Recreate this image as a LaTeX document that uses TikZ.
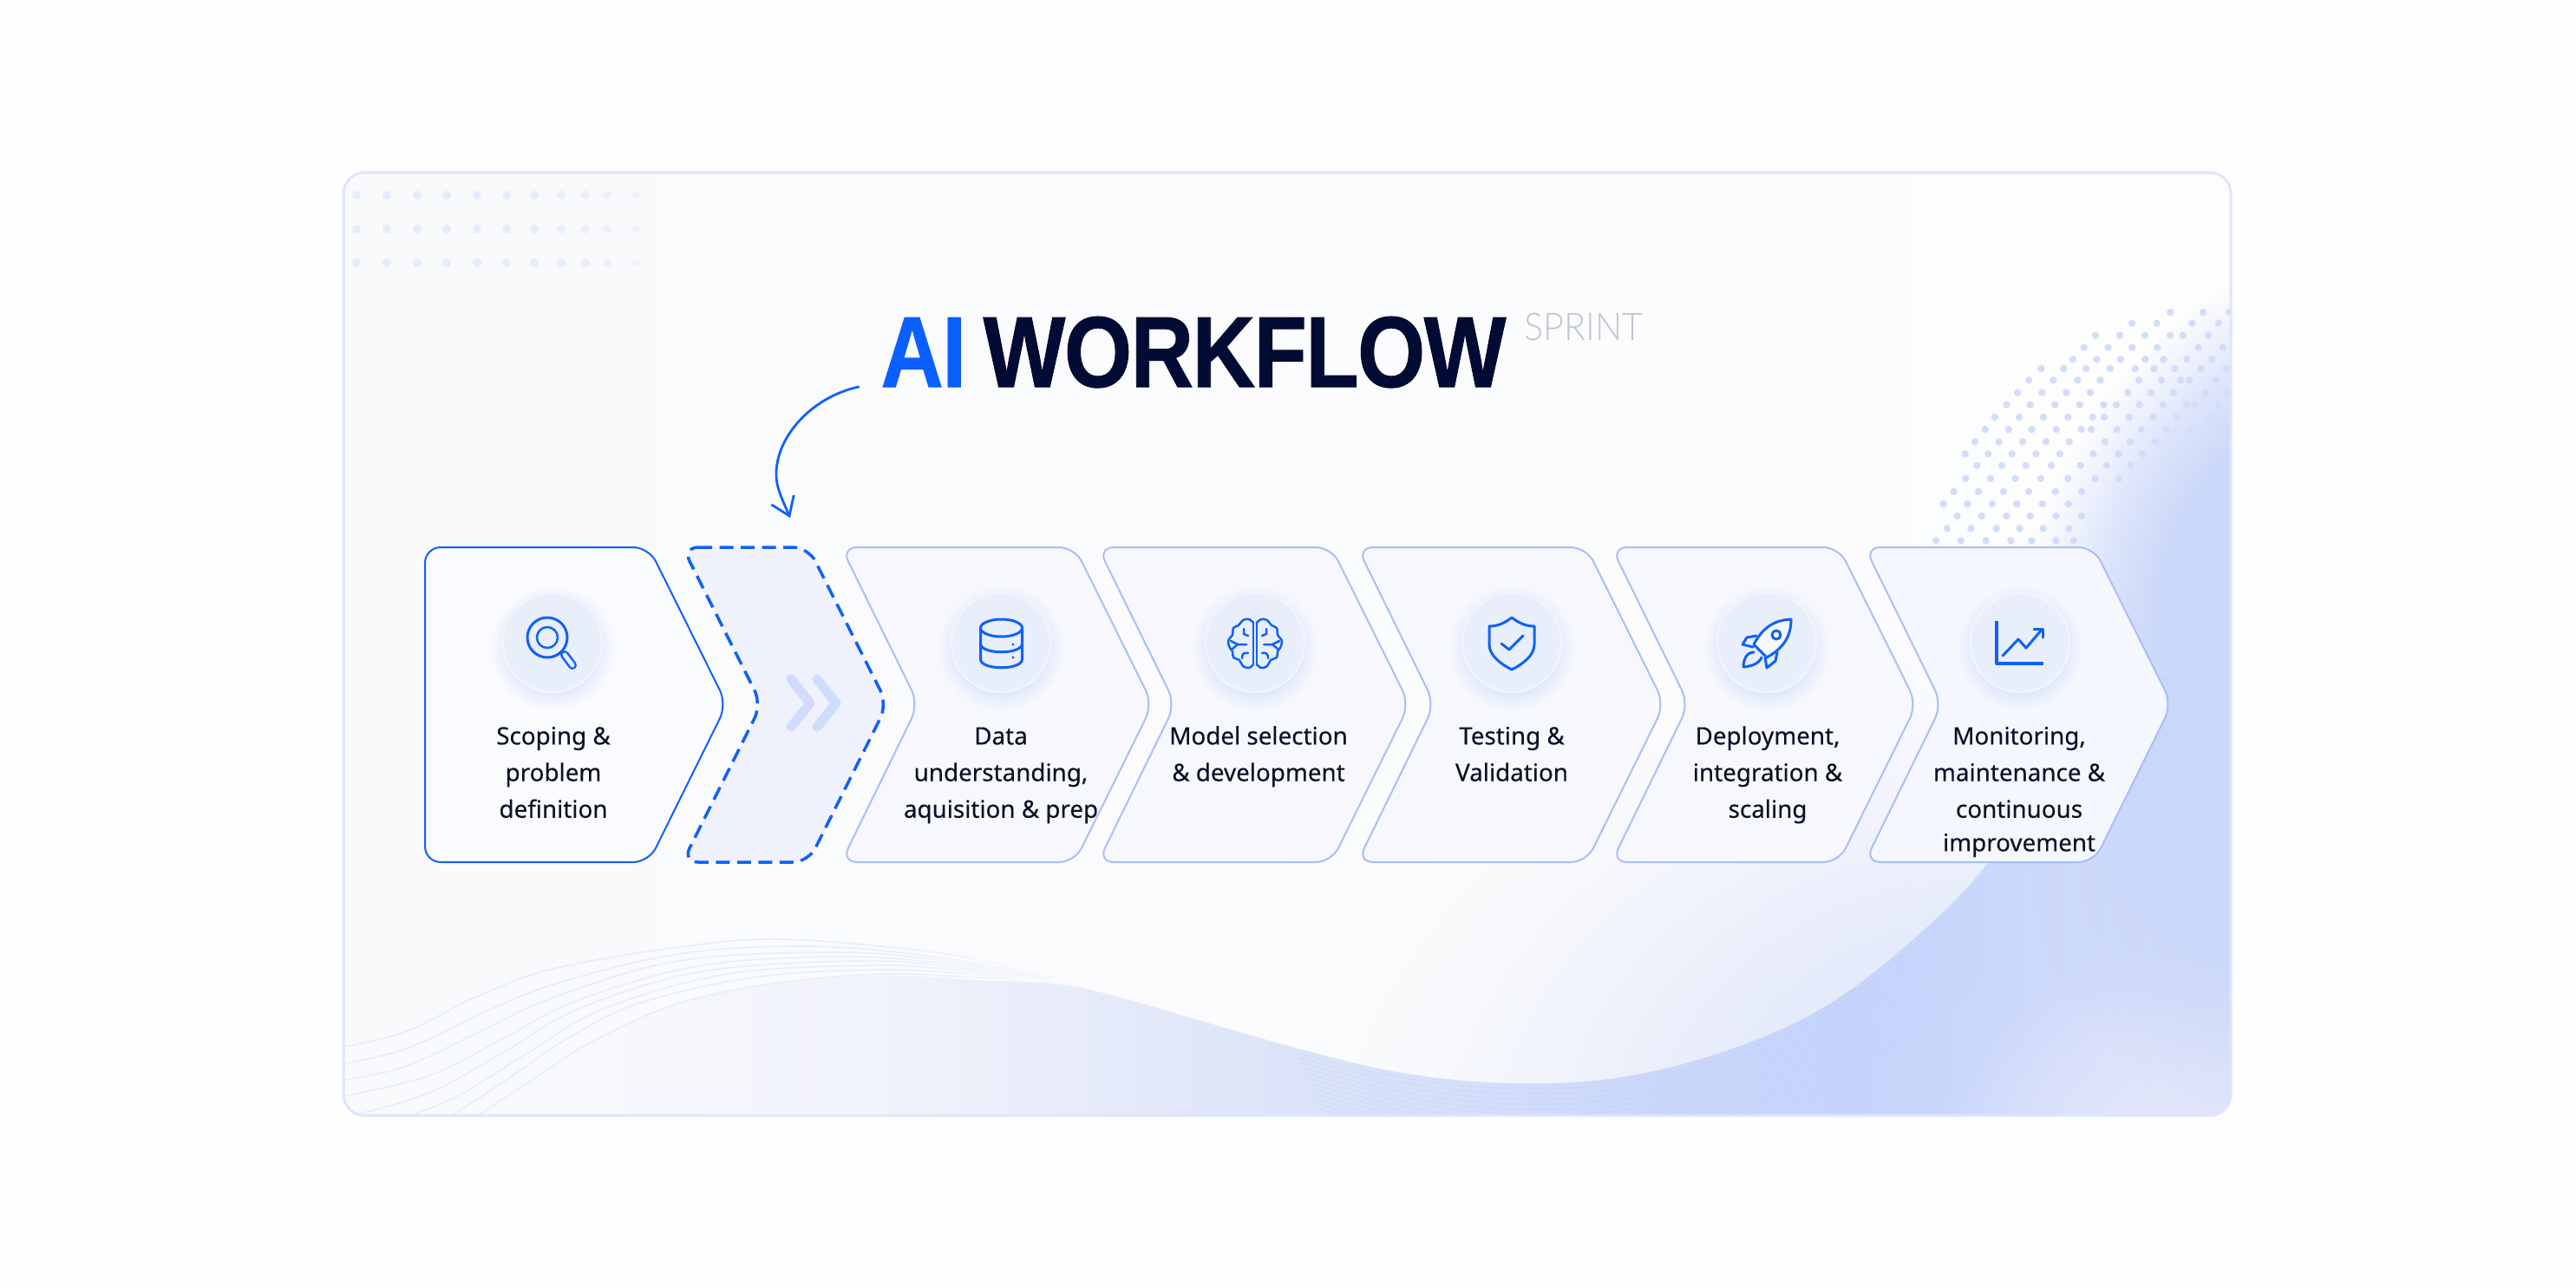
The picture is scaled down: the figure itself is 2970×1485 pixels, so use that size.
\documentclass[tikz,border=0pt]{standalone}
\usepackage{fontspec}
\usetikzlibrary{fadings,arrows.meta}
\newfontfamily\bodyf[FakeBold=0.22]{Noto Sans}
\newfontfamily\titlef[BoldFeatures={FakeBold=0.9,LetterSpace=-1.5}]{Liberation Sans}
\newfontfamily\lightf{Lato Light}
\definecolor{pagebg}{HTML}{FEFEFE}
\definecolor{framec}{HTML}{DEE5FD}
\definecolor{mainblue}{HTML}{0F62F6}
\definecolor{aiblue}{HTML}{0B5FFF}
\definecolor{navy}{HTML}{020B33}
\definecolor{inkc}{HTML}{0C1128}
\definecolor{sprintc}{HTML}{BEC5D5}
\definecolor{softline}{HTML}{A9BEF8}
\definecolor{chevfill}{HTML}{F6F8FD}
\definecolor{chevfirst}{HTML}{FAFBFE}
\definecolor{chevlast}{HTML}{F4F7FE}
\definecolor{dashfill}{HTML}{EFF2FC}
\definecolor{discfill}{HTML}{E9EEFB}
\definecolor{discedge}{HTML}{F3F5FD}
\definecolor{dblchev}{HTML}{CFDCFB}
\definecolor{glowblue}{HTML}{CAD7F9}
\definecolor{midglow}{HTML}{E3E9FB}
\definecolor{shadowb}{HTML}{AEC4F8}
\definecolor{dotc}{HTML}{D3DDFA}
\definecolor{dotl}{HTML}{E6ECFB}
\definecolor{linec}{HTML}{E8EDFB}
\definecolor{ringc}{HTML}{B5C8F8}
\definecolor{iconfill}{HTML}{F6F8FE}
\definecolor{wa}{HTML}{F9FAFC}
\definecolor{wb}{HTML}{F6F7FC}
\definecolor{wbb}{HTML}{F0F2FB}
\definecolor{wc}{HTML}{E9EDFA}
\definecolor{wd}{HTML}{DEE5F9}
\definecolor{we}{HTML}{D3DDFA}
\definecolor{wee}{HTML}{CAD7FA}
\definecolor{wf}{HTML}{C5D4FB}
\definecolor{wg}{HTML}{D2DCFA}
\definecolor{basel}{HTML}{F9FAFC}
\definecolor{baser}{HTML}{FDFDFE}
\definecolor{cornerc}{HTML}{E3E7FB}
\pgfdeclarehorizontalshading{wavebg}{100bp}{color(0bp)=(wa); color(25bp)=(wa); color(34bp)=(wb); color(40bp)=(wbb); color(43.5bp)=(wc); color(49bp)=(wd); color(56bp)=(we); color(60bp)=(wee); color(65bp)=(wf); color(73bp)=(wg); color(100bp)=(wg)}
\pgfdeclareradialshading{softs}{\pgfpointorigin}{color(0bp)=(pgftransparent!0); color(11bp)=(pgftransparent!5); color(17.5bp)=(pgftransparent!40); color(21bp)=(pgftransparent!70); color(25bp)=(pgftransparent!100); color(50bp)=(pgftransparent!100)}
\pgfdeclarefading{softf}{\pgfuseshading{softs}}
\pgfdeclareradialshading{widesoft}{\pgfpointorigin}{color(0bp)=(pgftransparent!0); color(8bp)=(pgftransparent!15); color(14bp)=(pgftransparent!50); color(20bp)=(pgftransparent!85); color(25bp)=(pgftransparent!100); color(50bp)=(pgftransparent!100)}
\pgfdeclarefading{widef}{\pgfuseshading{widesoft}}
\pgfdeclarehorizontalshading{linefs}{100bp}{color(0bp)=(pgftransparent!0); color(62bp)=(pgftransparent!0); color(75bp)=(pgftransparent!100); color(100bp)=(pgftransparent!100)}
\pgfdeclarefading{linef}{\pgfuseshading{linefs}}
\newcommand{\softglow}[7]{\begin{scope}[transform canvas={shift={(#1,#2)},rotate=#5}]\fill[#6,opacity=#7,path fading=softf] (0,0) ellipse[x radius=#3,y radius=#4];\end{scope}}
\newcommand{\chevpath}[5]{\draw[#1] (#2,631) -- (#3,631) -- (#5,812) -- (#3,994) -- (#2,994) -- (#4,812) -- cycle;}
\newcommand{\iconbase}[1]{\softglow{#1}{747}{72}{72}{0}{shadowb}{0.55}\node[discnode] (disc#1) at (#1,741) {};}
\newcommand{\fs}{\rule{0pt}{9pt}}
\tikzset{
  x=0.01cm,y=-0.01cm,
  chevbase/.style={rounded corners=0.18cm,line width=0.02cm},
  softchev/.style={chevbase,draw=softline,fill=chevfill},
  discnode/.style={circle,minimum size=1.14cm,inner sep=0pt,fill=discfill,draw=discedge,line width=0.02cm},
  lbl/.style={font=\bodyf\fontsize{7.9}{12}\selectfont,text=inkc,align=center,anchor=north,inner sep=0pt},
  iconline/.style={draw=mainblue,line width=0.03cm,line cap=round,line join=round},
  iconthin/.style={draw=mainblue,line width=0.025cm,line cap=round,line join=round},
  fineline/.style={draw=linec,line width=0.016cm,path fading=linef}
}
\begin{document}
\begin{tikzpicture}
\path[use as bounding box] (0,0) rectangle (2970,1485);
\fill[pagebg] (0,0) rectangle (2970,1485);
% panel
\begin{scope}
\clip[rounded corners=0.24cm] (396,199) rectangle (2572,1286);
\shade[left color=basel,right color=baser] (396,199) rectangle (2572,1286);
\begin{scope}[transform canvas={shift={(2240,1230)},rotate=15}]
\fill[midglow,path fading=widef] (0,0) ellipse[x radius=760,y radius=500];
\end{scope}
% wave region
\shade[shading=wavebg] plot[smooth,tension=.6] coordinates {(545,1292) (552,1283) (610,1247) (684,1200) (782,1157) (897,1133) (1023,1125) (1126,1130) (1212,1134) (1280,1147) (1490,1207) (1617,1237) (1745,1249) (1869,1242) (1995,1210) (2105,1160) (2206,1083) (2290,997) (2350,890) (2400,780)} -- (2572,780) -- (2572,1290) -- (396,1290) -- cycle;
\softglow{2600}{1340}{380}{260}{0}{cornerc}{0.9}
\softglow{2620}{640}{380}{260}{60}{glowblue}{1}
\softglow{2600}{960}{330}{260}{90}{glowblue}{0.8}
% fine concentric lines
\foreach \k in {1,...,14}{
  \draw[ringc,line width=0.006cm,opacity=0.4,shift={({2.6*\k},{6*\k})}] plot[smooth,tension=.6] coordinates {(1490,1207) (1617,1237) (1745,1249) (1869,1242) (1995,1210) (2105,1160) (2206,1083) (2290,997)};
}
% fine lines bottom left
\draw[fineline] plot[smooth,tension=.6] coordinates {(390,1208) (466,1190) (552,1148) (638,1117) (782,1092) (902,1083) (1069,1097) (1184,1118) (1212,1126)};
\draw[fineline] plot[smooth,tension=.6] coordinates {(390,1227) (466,1210) (552,1170) (638,1135) (782,1100) (931,1091) (1069,1102) (1212,1126)};
\draw[fineline] plot[smooth,tension=.6] coordinates {(390,1246) (466,1230) (552,1190) (638,1150) (782,1108) (954,1098) (1069,1105) (1212,1127)};
\draw[fineline] plot[smooth,tension=.6] coordinates {(390,1265) (495,1240) (581,1197) (667,1153) (810,1113) (977,1103) (1098,1112) (1212,1127)};
\draw[fineline] plot[smooth,tension=.6] coordinates {(410,1285) (495,1260) (581,1213) (667,1163) (810,1120) (994,1108) (1098,1115) (1212,1128)};
\draw[fineline] plot[smooth,tension=.6] coordinates {(470,1287) (529,1263) (610,1213) (696,1163) (839,1123) (1006,1113) (1098,1118) (1212,1128)};
\draw[fineline] plot[smooth,tension=.6] coordinates {(518,1288) (581,1247) (655,1197) (736,1157) (868,1127) (1011,1118) (1126,1123) (1212,1129)};
\draw[fineline] plot[smooth,tension=.6] coordinates {(548,1288) (610,1247) (684,1200) (782,1157) (897,1133) (1023,1123) (1126,1127) (1212,1130)};
% dot grid top-left
\foreach \py in {225,264,303}{
  \foreach \px/\po in {411/1,446/1,481/1,515/1,550/1,584/1,616/.95,647/.85,675/.8,700/.7,733/.45}{
    \fill[dotl,opacity=\po] (\px,\py) circle[radius=5];
  }
}
% halftone dots
\foreach \zy/\zlist in {
 1090/{396,482,569,655,727,811,873},
 1048/{435,517,605,685,767,856},
 1005/{469,554,640,722,811,900},
 963/{422,505,591,676,765,854},
 920/{458,543,630,717,809,901},
 875/{499,585,670,759,853,947,1030},
 830/{538,624,707,795,896,987,1070},
 790/{497,577,659,742,824,940,1028,1110},
 748/{531,614,696,777,857,981,1068,1155,1348},
 705/{566,647,728,812,899,933,1022,1106,1192,1275,1385},
 663/{600,684,768,853,938,978,1064,1147,1230,1340},
 620/{640,722,808,893,976,1020,1100,1182,1262,1293,1373},
 578/{678,763,847,930,1060,1140,1218,1327,1405},
 535/{717,802,886,964,1098,1176,1242,1273,1364},
 495/{760,838,915,998,1085,1150,1222,1312,1400},
 463/{870,952,1034,1120,1183,1264,1350},
 422/{908,992,1075,1162,1303,1388},
 380/{948,1032,1119,1206,1250,1338},
 338/{1074,1160,1282,1374},
 300/{1207,1320,1410}}{
  \foreach \zx in \zlist {
    \fill[dotc] ({2100+\zx/3},{260+\zy/3}) circle[radius=4.2];
  }
}
\end{scope}
\draw[framec,line width=0.03cm,rounded corners=0.24cm] (396,199) rectangle (2572,1286);
% title
\node[font=\titlef\bfseries\fontsize{33}{33}\selectfont,text=aiblue,anchor=base west,inner sep=0pt,xscale=0.86] (titleai) at (1015,446) {AI};
\node[font=\titlef\bfseries\fontsize{33}{33}\selectfont,text=navy,anchor=base west,inner sep=0pt,xscale=0.865] (titlewf) at (1133,446) {WORKFLOW};
\node[font=\lightf\fontsize{12.5}{12.5}\selectfont,text=sprintc,anchor=base west,inner sep=0pt,xscale=0.94] (titlesp) at (1757,392) {SPRINT};
% arrow
\coordinate (arrS) at (990,446);
\coordinate (arrM) at (895,550);
\coordinate (arrE) at (911,597);
\draw[mainblue,line width=0.028cm,line cap=round,-{Straight Barb[length=0.2cm,width=0.28cm,line width=0.028cm]}] (arrS) .. controls (935,458) and (893,505) .. (arrM) .. controls (896,565) and (903,578) .. (arrE);
% chevrons
\draw[chevbase,draw=mainblue,fill=chevfirst] (490,631) -- (748,631) -- (838,812) -- (748,994) -- (490,994) -- cycle;
\chevpath{chevbase,draw=mainblue,fill=dashfill,line width=0.035cm,dash pattern=on 0.16cm off 0.085cm}{787}{932}{878}{1023}
\chevpath{softchev}{970}{1239}{1059}{1329}
\chevpath{softchev}{1266}{1535}{1355}{1625}
\chevpath{softchev}{1565}{1829}{1654}{1919}
\chevpath{softchev}{1858}{2120}{1947}{2210}
\chevpath{softchev,fill=chevlast}{2150}{2414}{2239}{2504}
% double chevron
\draw[dblchev,line width=0.11cm,line cap=round,line join=round] (912,783) -- (934,811) -- (912,838);
\draw[dblchev,line width=0.11cm,line cap=round,line join=round] (942,783) -- (964,811) -- (942,838);
% icon discs
\iconbase{637}
\iconbase{1154}
\iconbase{1447}
\iconbase{1743}
\iconbase{2037}
\iconbase{2329}
% magnifier
\draw[iconline] (631,735) circle[radius=23];
\draw[iconthin] (631,735) circle[radius=12];
\draw[mainblue,line width=0.1cm,line cap=round] (651,755) -- (660,767);
\draw[discfill,line width=0.05cm,line cap=round] (651,755) -- (660,767);
% database
\draw[iconline] (1154.5,724) ellipse[x radius=24,y radius=10];
\draw[iconline] (1130.5,724) -- (1130.5,760) .. controls (1130.5,773) and (1178.5,773) .. (1178.5,760) -- (1178.5,724);
\draw[iconline] (1130.5,742) .. controls (1130.5,755) and (1178.5,755) .. (1178.5,742);
\fill[mainblue] (1168,743) circle[radius=1.6];
\fill[mainblue] (1168,758) circle[radius=1.6];
% brain
\begin{scope}[shift={(1447,742)}]
\foreach \sx in {1,-1}{
\begin{scope}[xscale=\sx]
\draw[iconthin] plot[smooth,tension=.6] coordinates {(2,-24) (7,-28) (14,-27) (19,-21) (25,-18) (26,-10) (31,-3) (29,5) (26,9) (25,16) (18,19) (14,26) (7,28) (2,24)};
\draw[iconthin] (2,-24) -- (2,24);
\draw[iconthin] (13,-17) -- (13,-11) -- (8,-9);
\draw[iconthin] (10,1) -- (20,1) -- (28,-3);
\draw[iconthin] (20,1) -- (26,6);
\draw[iconthin] (8,11) .. controls (13,10) and (15,12) .. (15,17);
\end{scope}}
\end{scope}
% shield
\draw[iconline] (1743,712) .. controls (1752,719) and (1760,722) .. (1769,722) -- (1769,743) .. controls (1769,755) and (1757,765) .. (1743,772) .. controls (1729,765) and (1717,755) .. (1717,743) -- (1717,722) .. controls (1726,722) and (1734,719) .. (1743,712) -- cycle;
\draw[iconline] (1731,742) -- (1740,749) -- (1756,733);
% rocket
\draw[iconline,fill=iconfill] (2065,714) .. controls (2045,715) and (2032,724) .. (2022,743) -- (2037,758) .. controls (2055,748) and (2065,735) .. (2065,714) -- cycle;
\draw[iconline] (2048,732) circle[radius=5];
\draw[iconline] (2025,733) -- (2014,735) -- (2009,743) -- (2021,746);
\draw[iconline] (2049,752) -- (2047,762) -- (2037,770) -- (2035,758);
\draw[iconline] (2022,752) .. controls (2014,752) and (2010,760) .. (2010,769) .. controls (2020,768) and (2028,765) .. (2031,758);
% chart
\draw[iconline,line cap=butt,line width=0.035cm] (2302,716) -- (2302,765) -- (2356,765);
\draw[iconline] (2309,756) -- (2327,737) -- (2336,747) -- (2354,726);
\draw[iconline] (2345,725) -- (2355,725) -- (2355,735);
% labels
\node[lbl] (lab1) at (638,826) {\fs Scoping \&\\problem\\definition};
\node[lbl] (lab3) at (1154,826) {\fs Data\\understanding,\\aquisition \& prep};
\node[lbl] (lab4) at (1451,826) {\fs Model selection\\\& development};
\node[lbl] (lab5) at (1743,826) {\fs Testing \&\\Validation};
\node[lbl] (lab6) at (2038,826) {\fs Deployment,\\integration \&\\scaling};
\node[lbl] (lab7) at (2328,826) {\fs Monitoring,\\maintenance \&\\continuous\\[-1pt]improvement};
\end{tikzpicture}
\end{document}
